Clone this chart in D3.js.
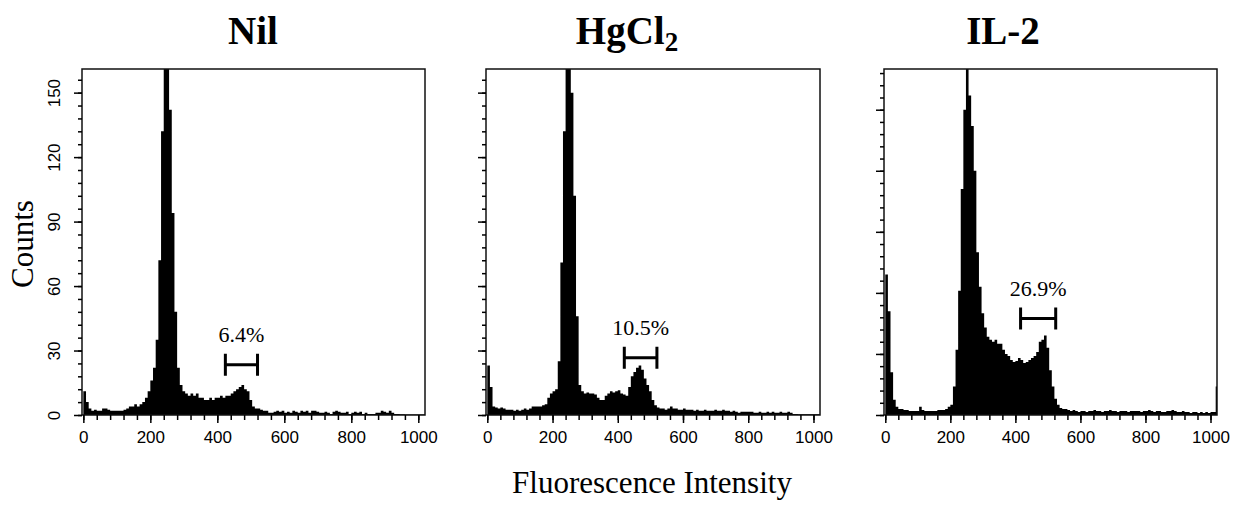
<!DOCTYPE html>
<html>
<head>
<meta charset="utf-8">
<script src="https://cdn.jsdelivr.net/npm/d3@7"></script>
<style>
  body { margin: 0; background: #fff; }
  svg { display: block; }
</style>
</head>
<body>
<div id="chart"></div>
<script>
// panel titles (subscript part kept apart for HgCl2)
var panelTitles = ['Nil', 'HgCl', 'IL-2'];
var titleSubs = ['', '2', ''];

var xTickValues = [0, 200, 400, 600, 800, 1000];
var yTickValues = [0, 30, 60, 90, 120, 150];
var binWidth = 8;   // channels per bin, 128 bins over 0..1024

// counts, one value per 8-channel bin
var nilCounts = [
  11, 6, 3, 2, 2.5, 2, 2, 3, 3, 2.5,
  2, 2, 2, 2, 2, 2.5, 3, 4, 4, 5,
  4, 5, 6, 8, 11, 16, 22, 35, 72, 132,
  175, 175, 142, 94, 48, 22, 14, 11, 10, 9,
  10, 9, 10, 8, 8, 7, 7, 8, 7, 8,
  8, 9, 8, 9, 9, 10, 11, 12, 13, 14,
  12, 11, 7, 4, 3, 3, 2.5, 2, 2, 1,
  1, 1.5, 2, 1.5, 2, 1, 1.5, 1, 2, 1.5,
  1, 2, 1.5, 2, 1, 2, 2, 1.5, 1, 1,
  1.5, 1, 0.5, 1.5, 2, 1.5, 1, 1, 1.5, 0.5,
  1, 1.5, 1, 1.5, 0.5, 1, 0.5, 0.5, 0.5, 1,
  1, 2, 1.5, 1, 2, 1, 0.5, 0.5, 0.3, 0.3,
  0.2, 0.2, 0.2, 0.2, 0.2, 0.2, 0.2, 0.2
];
var hgCounts = [
  23, 13, 4, 3.5, 3, 3.5, 3, 2.5, 2.5, 2.5,
  2, 2.5, 2, 2.5, 3, 2.5, 3, 4, 4, 4,
  4, 4.5, 5, 8, 10, 11, 12, 25, 71, 132,
  175, 175, 150, 102, 46, 14, 11, 10, 10.5, 10,
  10, 9.5, 8, 7, 7, 9, 10, 11, 10.5, 11,
  11.5, 10, 9.5, 9, 13, 18, 20, 22, 23, 21,
  17, 14, 11, 7, 4.5, 3.5, 3, 3, 2.5, 3,
  4, 3, 3, 2.5, 2.5, 3, 2.5, 2.5, 2.5, 2,
  2.5, 2, 2, 2.5, 2, 2, 2, 2.5, 2, 2,
  2.5, 2, 2, 1.5, 2, 1.5, 1, 1.5, 1.5, 1.5,
  1.5, 1.5, 1, 1, 1.5, 1, 1, 1.5, 1, 1.5,
  1, 1, 1.5, 1, 1, 1.5, 1, 0.5, 0.5, 0.3,
  0.3, 0.3, 0.3, 0.3, 0.3, 0.3, 0.3, 0.3
];
var il2Counts = [
  69, 51, 21, 7.5, 4, 3, 3, 2.5, 2.5, 2,
  2, 2, 2, 4, 2.5, 2, 2, 2, 2, 2,
  2.5, 2.5, 2.5, 3, 4, 5, 14, 32, 61, 111,
  150, 175, 157, 142, 120, 80, 63, 50, 43, 38.5,
  37, 36, 37, 35, 35, 32, 30, 29, 27, 26,
  26.5, 28, 27, 25.5, 26, 27, 28, 29, 31, 36,
  37, 39, 33, 22, 14, 8, 5, 3.5, 3, 3,
  2.5, 2, 2.5, 2, 1.5, 2, 2, 1.5, 2, 2,
  2.5, 2, 2, 1.5, 2, 2, 2.5, 2, 2, 1.5,
  2, 2, 2, 1.5, 2, 2, 2, 2, 1.5, 2,
  2, 2.5, 2, 1.5, 2, 2, 1.5, 1.5, 2, 2,
  2.5, 2, 1.5, 1.5, 2, 1.5, 1.5, 1, 1.5, 1.5,
  1, 1.5, 1, 1.5, 1, 1.5, 1.5, 14
];

// gated region (M marker) per panel
var gateLabels = ['6.4%', '10.5%', '26.9%'];
var gateStart = [424, 420, 416];
var gateEnd = [520, 520, 524];
var gateLevel = [23.4, 26.6, 47.4];
var yMaxCounts = [161, 161, 170];

var allCounts = [nilCounts, hgCounts, il2Counts];

var width = 1238, height = 505;
var plotTop = 69, plotBottom = 415;
var frames = [ { l: 82, r: 425 }, { l: 486, r: 820 }, { l: 884, r: 1217 } ];
var titleX = [253, 627, 1003];

var svg = d3.select('#chart').append('svg')
    .attr('width', width)
    .attr('height', height);

var tickFont = "'Liberation Sans', Arial, sans-serif";
var serif = "'Liberation Serif', 'Times New Roman', serif";

frames.forEach(function(f, p) {
    var x = d3.scaleLinear().domain([-4, 1020]).range([f.l, f.r]);
    var y = d3.scaleLinear().domain([0, yMaxCounts[p]]).range([plotBottom, plotTop]);

    var g = svg.append('g');

    g.append('clipPath').attr('id', 'clip' + p)
      .append('rect')
        .attr('x', f.l).attr('y', plotTop)
        .attr('width', f.r - f.l).attr('height', plotBottom - plotTop);

    // histogram as a step area
    var pts = allCounts[p].map(function(c, i) { return { ch: i * binWidth, c: c }; });
    pts.push({ ch: pts.length * binWidth, c: pts[pts.length - 1].c });

    var area = d3.area()
        .curve(d3.curveStepAfter)
        .x(function(d) { return x(d.ch); })
        .y0(y(0))
        .y1(function(d) { return y(d.c); });

    g.append('path')
        .datum(pts)
        .attr('clip-path', 'url(#clip' + p + ')')
        .attr('fill', '#000')
        .attr('d', area);

    // frame
    g.append('rect')
        .attr('x', f.l).attr('y', plotTop)
        .attr('width', f.r - f.l).attr('height', plotBottom - plotTop)
        .attr('fill', 'none')
        .attr('stroke', '#111')
        .attr('stroke-width', 1.5);

    // y ticks, minor then major
    g.append('g')
        .attr('transform', 'translate(' + f.l + ',0)')
        .call(d3.axisLeft(y).tickValues(d3.range(0, yMaxCounts[p], 6)).tickSize(4).tickFormat(''))
        .call(function(a) { a.select('.domain').remove(); })
        .selectAll('line').attr('stroke-width', 1.5);

    var yAx = g.append('g')
        .attr('transform', 'translate(' + f.l + ',0)')
        .call(d3.axisLeft(y).tickValues(yTickValues.filter(function(v) { return v < yMaxCounts[p]; }))
            .tickSize(8).tickFormat(p === 0 ? d3.format('d') : ''))
        .call(function(a) { a.select('.domain').remove(); });
    yAx.selectAll('line').attr('stroke-width', 1.5);
    yAx.selectAll('text')
        .attr('transform', 'rotate(-90)')
        .attr('x', 0).attr('y', -22).attr('dy', 0)
        .attr('text-anchor', 'middle')
        .style('font-family', tickFont)
        .style('font-size', '17px')
        .attr('fill', '#000');

    // x ticks
    g.append('g')
        .attr('transform', 'translate(0,' + plotBottom + ')')
        .call(d3.axisBottom(x).tickValues(d3.range(0, 1001, 40)).tickSize(5).tickFormat(''))
        .call(function(a) { a.select('.domain').remove(); })
        .selectAll('line').attr('stroke-width', 1.5);

    var xAx = g.append('g')
        .attr('transform', 'translate(0,' + plotBottom + ')')
        .call(d3.axisBottom(x).tickValues(xTickValues).tickSize(8).tickFormat(d3.format('d')))
        .call(function(a) { a.select('.domain').remove(); });
    xAx.selectAll('line').attr('stroke-width', 1.5);
    xAx.selectAll('text')
        .attr('y', 28).attr('dy', 0)
        .style('font-family', tickFont)
        .style('font-size', '17px')
        .attr('fill', '#000');

    // gate bracket
    var bx0 = x(gateStart[p]), bx1 = x(gateEnd[p]), by = y(gateLevel[p]);
    g.append('path')
        .attr('d', 'M' + bx0 + ',' + (by - 11) + 'V' + (by + 11) + 'M' + bx0 + ',' + by + 'H' + bx1 +
                   'M' + bx1 + ',' + (by - 11) + 'V' + (by + 11))
        .attr('fill', 'none')
        .attr('stroke', '#000')
        .attr('stroke-width', 3);

    g.append('text')
        .attr('x', (bx0 + bx1) / 2)
        .attr('y', by - 23)
        .attr('text-anchor', 'middle')
        .style('font-family', serif)
        .style('font-size', '22px')
        .text(gateLabels[p]);

    // title
    var t = svg.append('text')
        .attr('x', titleX[p])
        .attr('y', 44)
        .attr('text-anchor', 'middle')
        .style('font-family', serif)
        .style('font-weight', 'bold')
        .style('font-size', '39px')
        .text(panelTitles[p]);
    if (titleSubs[p]) {
        t.append('tspan')
            .attr('dy', 7)
            .style('font-size', '27px')
            .text(titleSubs[p]);
    }
});

svg.append('text')
    .attr('transform', 'translate(33,244) rotate(-90)')
    .attr('text-anchor', 'middle')
    .style('font-family', serif)
    .style('font-size', '31px')
    .text('Counts');

svg.append('text')
    .attr('x', 652)
    .attr('y', 493)
    .attr('text-anchor', 'middle')
    .style('font-family', serif)
    .style('font-size', '31px')
    .text('Fluorescence Intensity');
</script>
</body>
</html>
